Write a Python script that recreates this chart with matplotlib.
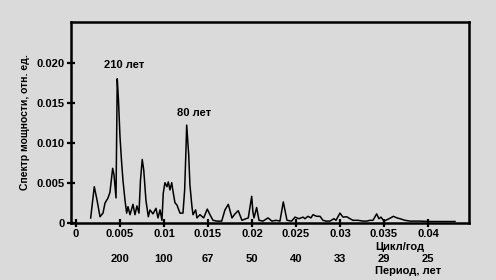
import matplotlib
matplotlib.use("Agg")
import matplotlib.pyplot as plt

# частота, цикл/год
freq = [0.00167, 0.00208, 0.00239, 0.00273, 0.00307, 0.0033, 0.00364, 0.00386, 0.00417, 0.00432,
        0.00455, 0.00469, 0.00483, 0.005, 0.00517, 0.00534, 0.00557, 0.00576, 0.00591, 0.00614,
        0.00648, 0.0067, 0.00693, 0.00716, 0.00733, 0.00753, 0.0077, 0.00795, 0.00822, 0.00841,
        0.00875, 0.00909, 0.00932, 0.00955, 0.00977, 0.00992, 0.01011, 0.01034, 0.01049, 0.01068,
        0.01088, 0.01106, 0.01125, 0.01148, 0.01182, 0.01216, 0.01235, 0.0125, 0.01258, 0.01281,
        0.01295, 0.01318, 0.0133, 0.0136, 0.01375, 0.01409, 0.01451, 0.01492, 0.01523, 0.01557,
        0.01602, 0.01656, 0.01693, 0.01731, 0.01773, 0.01807, 0.01844, 0.01886, 0.01932, 0.01958,
        0.01997, 0.02011, 0.02023, 0.02053, 0.0208, 0.02125, 0.02182, 0.02227, 0.02273, 0.02318,
        0.02356, 0.02398, 0.02451, 0.02489, 0.02534, 0.0258, 0.02602, 0.02636, 0.0267, 0.02693,
        0.02735, 0.02773, 0.02807, 0.02841, 0.02886, 0.02932, 0.02955, 0.03, 0.03034, 0.03076,
        0.03114, 0.03148, 0.03205, 0.03261, 0.03307, 0.03341, 0.03375, 0.03417, 0.03443, 0.03466,
        0.035, 0.03568, 0.03606, 0.03648, 0.03682, 0.03739, 0.03795, 0.03909, 0.04023, 0.04136,
        0.04307]
# спектр мощности, отн. ед.
power = [0.00059, 0.0045, 0.00284, 0.00075, 0.0012, 0.00246, 0.00309, 0.0038, 0.0068, 0.006,
         0.0031, 0.018, 0.0153, 0.0108, 0.0078, 0.0053, 0.0028, 0.0012, 0.002, 0.001,
         0.0023, 0.001, 0.0021, 0.0012, 0.0053, 0.0079, 0.0066, 0.0028, 0.00075, 0.0016,
         0.0011, 0.0018, 0.0006, 0.0016, 0.0003, 0.0037, 0.005, 0.0045, 0.0051, 0.0041,
         0.005, 0.0037, 0.0025, 0.0022, 0.0012, 0.0012, 0.0041, 0.0091, 0.0122, 0.0085,
         0.0047, 0.002, 0.001, 0.0016, 0.0006, 0.001, 0.0006, 0.0017, 0.001, 0.0003,
         0.0002, 0.0002, 0.0016, 0.0023, 0.0006, 0.0011, 0.0015, 0.0003, 0.0005, 0.0006,
         0.0033, 0.0013, 0.0006, 0.0019, 0.0003, 0.0002, 0.0006, 0.0002, 0.0003, 0.0002,
         0.0026, 0.0003, 0.0002, 0.0007, 0.0005, 0.0007, 0.0005, 0.0008, 0.0006, 0.001,
         0.0008, 0.0008, 0.0003, 0.0002, 0.0002, 0.0005, 0.0003, 0.0012, 0.0007, 0.00075,
         0.0005, 0.0003, 0.0003, 0.0002, 0.0002, 0.0003, 0.0003, 0.0011, 0.0005, 0.0007,
         0.0002, 0.00055, 0.0008, 0.0006, 0.0005, 0.0003, 0.0002, 0.0002, 0.00015, 0.00015,
         0.00015]

x_ticks = [0, 0.005, 0.01, 0.015, 0.02, 0.025, 0.03, 0.035, 0.04]
x_labels = ['0', '0.005', '0.01', '0.015', '0.02', '0.025', '0.03', '0.035', '0.04']
y_ticks = [0, 0.005, 0.010, 0.015, 0.020]
y_labels = ['0', '0.005', '0.010', '0.015', '0.020']
period_labels = ['200', '100', '67', '50', '40', '33', '29', '25']

bg = '#dadada'
plt.rcParams['font.family'] = ['Liberation Sans', 'DejaVu Sans']
plt.rcParams['font.weight'] = 'bold'

fig = plt.figure(figsize=(4.96, 2.8), dpi=100, facecolor=bg)
ax = fig.add_axes([0.1431, 0.2046, 0.8024, 0.7168], facecolor=bg)

ax.plot(freq, power, color='black', lw=1.1)

ax.set_xlim(-0.000568, 0.04466)
ax.set_ylim(0, 0.02509)
ax.set_xticks(x_ticks)
ax.set_xticklabels(x_labels)
ax.set_yticks(y_ticks)
ax.set_yticklabels(y_labels)
ax.tick_params(axis='both', direction='inout', length=6, width=1.6, labelsize=8, pad=1.5)
for s in ax.spines.values():
    s.set_linewidth(1.8)

ax.set_ylabel('Спектр мощности, отн. ед.', fontsize=7.5, fontweight='bold', labelpad=5)

# вторая строка подписей: период
tr = ax.get_xaxis_transform()
for f, lab in zip(x_ticks[1:], period_labels):
    ax.text(f, -0.181, lab, transform=tr, ha='center', va='center', fontsize=8, fontweight='bold')

ax.text(0.764, -0.122, 'Цикл/год', transform=ax.transAxes, ha='left', va='center',
        fontsize=8, fontweight='bold')
ax.text(0.764, -0.239, 'Период, лет', transform=ax.transAxes, ha='left', va='center',
        fontsize=8, fontweight='bold')

ax.text(0.00545, 0.01971, '210 лет', ha='center', va='center', fontsize=8, fontweight='bold')
ax.text(0.01341, 0.01371, '80 лет', ha='center', va='center', fontsize=8, fontweight='bold')

fig.savefig('out.png', dpi=100, facecolor=bg)
